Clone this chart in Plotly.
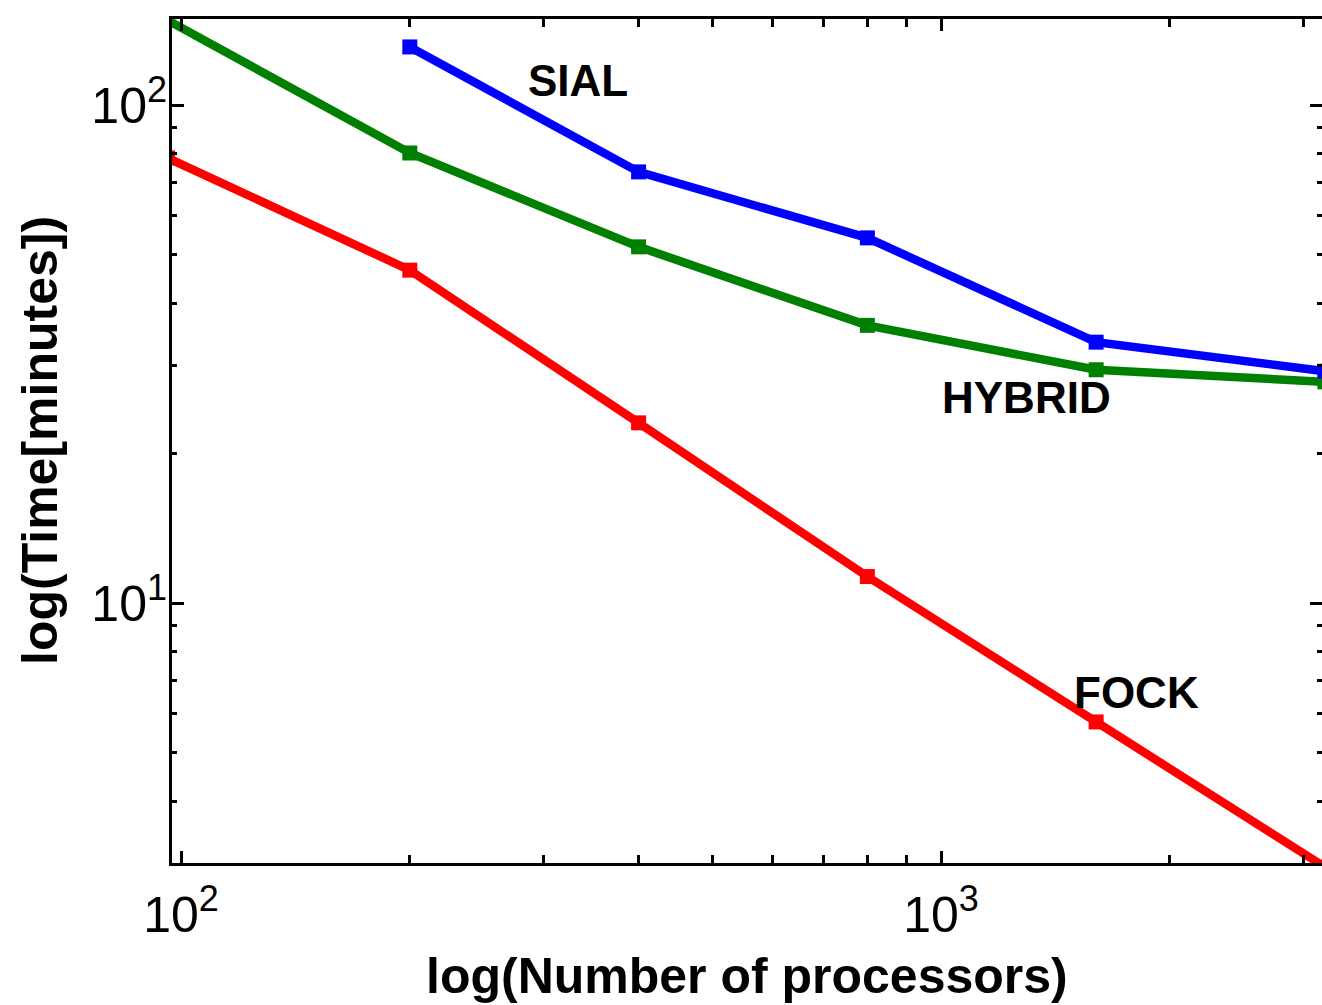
import numpy as np
import plotly.graph_objects as go

# ---- data ----
procs = [96, 200, 400, 800, 1600, 3200]
sial_procs = [200, 400, 800, 1600, 3200]
sial_time = [130.8, 73.4, 54.1, 33.4, 29.2]
hybrid_time = [148.0, 80.1, 51.9, 36.1, 29.4, 27.8]
fock_time = [78.3, 46.6, 23.0, 11.3, 5.77, 2.95]

series_names = ["SIAL", "HYBRID", "FOCK"]
series_colors = ["#0000ff", "#008000", "#ff0000"]

x_major = [100, 1000]
x_major_text = ["10<sup><span style='font-size:36px'>2</span></sup>",
                "10<sup><span style='font-size:36px'>3</span></sup>"]
x_minor = [200, 300, 400, 500, 600, 700, 800, 900, 2000, 3000]
y_major = [10, 100]
y_major_text = ["10<sup><span style='font-size:36px'>1</span></sup>",
                "10<sup><span style='font-size:36px'>2</span></sup>"]
y_minor = [3, 4, 5, 6, 7, 8, 9, 20, 30, 40, 50, 60, 70, 80, 90]

label_pos = {"SIAL": (333, 112), "HYBRID": (1297, 25.9), "FOCK": (1810, 6.6)}

FONT = "Liberation Sans, Arial, sans-serif"

fig = go.Figure()
for name, xs, ys, col in [
    ("FOCK", procs, fock_time, series_colors[2]),
    ("HYBRID", procs, hybrid_time, series_colors[1]),
    ("SIAL", sial_procs, sial_time, series_colors[0]),
]:
    fig.add_trace(go.Scatter(
        x=xs, y=ys, mode="lines+markers", name=name,
        line=dict(color=col, width=8.5),
        marker=dict(symbol="square", size=15, color=col),
        showlegend=False,
    ))

annotations = []
for name in series_names:
    px, py = label_pos[name]
    annotations.append(dict(
        x=np.log10(px), y=np.log10(py), xref="x", yref="y",
        text=name, showarrow=False,
        font=dict(family=FONT, size=44, color="black", weight="bold"),
        xanchor="center", yanchor="middle",
    ))

annotations.append(dict(
    x=0.5, y=0, xref="paper", yref="paper", yshift=-113,
    text="log(Number of processors)", showarrow=False,
    font=dict(family=FONT, size=50, color="black", weight="bold"),
    xanchor="center", yanchor="middle",
))
annotations.append(dict(
    x=0, y=0.5, xref="paper", yref="paper", xshift=-132,
    text="log(Time[minutes])", showarrow=False, textangle=-90,
    font=dict(family=FONT, size=50, color="black", weight="bold"),
    xanchor="center", yanchor="middle",
))

tickfont = dict(family=FONT, size=50, color="black")

fig.update_xaxes(
    type="log", showgrid=False, zeroline=False,
    showline=True, linecolor="black", linewidth=3, mirror="allticks",
    ticks="inside", ticklen=12, tickwidth=3, tickcolor="black",
    tickmode="array", tickfont=tickfont,
    range=[np.log10(97.3), 3.5013],
    tickvals=x_major, ticktext=x_major_text,
    minor=dict(tickmode="array", tickvals=x_minor, ticks="inside", ticklen=8,
               tickwidth=3, tickcolor="black", showgrid=False),
    ticklabelstandoff=6,
)
fig.update_yaxes(
    type="log", showgrid=False, zeroline=False,
    showline=False, linecolor="black", linewidth=3, mirror="allticks",
    ticks="inside", ticklen=12, tickwidth=3, tickcolor="black",
    tickmode="array", tickfont=tickfont,
    range=[0.4779, 2.1727],
    tickvals=y_major, ticktext=y_major_text,
    minor=dict(tickmode="array", tickvals=y_minor, ticks="inside", ticklen=5,
               tickwidth=3, tickcolor="black", showgrid=False),
    ticklabelstandoff=4,
)

# left axis line only (the right one lies beyond the picture edge in the reference)
fig.add_shape(type="line", xref="paper", yref="paper",
              x0=-1.5 / 1150, x1=-1.5 / 1150, y0=-3 / 844, y1=1 + 3 / 844,
              line=dict(color="black", width=3), layer="above")

fig.update_layout(
    width=1322, height=1005,
    margin=dict(l=172, r=0, t=19, b=142, pad=0),
    paper_bgcolor="white", plot_bgcolor="white",
    annotations=annotations,
    showlegend=False,
)

fig.write_html("out.html")
